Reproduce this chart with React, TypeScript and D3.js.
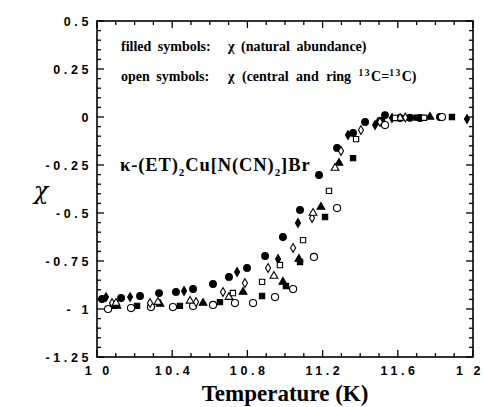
import React from "react";
import * as d3 from "d3";

const W = 484, H = 407;
const M = { left: 97, right: 473, top: 21, bottom: 357 };

const xTicks = [10, 10.4, 10.8, 11.2, 11.6, 12];
const xTickLabels = ["1 0", "10.4", "10.8", "11.2", "11.6", "1 2"];
const yTicks = [0.5, 0.25, 0, -0.25, -0.5, -0.75, -1, -1.25];
const yTickLabels = ["0.5", "0.25", "0", "-0.25", "-0.5", "-0.75", "- 1", "-1.25"];

// filled circle
const fcT = [10.027, 10.128, 10.229, 10.33, 10.42, 10.511, 10.617, 10.702, 10.798, 10.894, 10.989, 11.08, 11.181, 11.277, 11.362, 11.426, 11.532, 11.612, 11.665, 11.718, 11.824];
const fcX = [-0.948, -0.943, -0.932, -0.917, -0.911, -0.896, -0.87, -0.833, -0.786, -0.724, -0.625, -0.484, -0.302, -0.161, -0.083, -0.026, 0.01, -0.005, -0.004, -0.005, 0.0];
// filled diamond
const fdT = [10.048, 10.176, 10.463, 10.745, 10.963, 11.069, 11.335, 11.479, 11.569, 11.968];
const fdX = [-0.938, -0.938, -0.906, -0.807, -0.74, -0.552, -0.094, -0.042, -0.005, -0.01];
// filled triangle
const ftT = [10.106, 10.335, 10.564, 10.777, 10.989, 11.074, 11.191, 11.287, 11.495, 11.771];
const ftX = [-0.984, -0.974, -0.969, -0.911, -0.859, -0.74, -0.469, -0.24, -0.026, 0.0];
// filled square
const fsT = [10.085, 10.213, 10.441, 10.654, 10.878, 11.005, 11.08, 11.213, 11.362, 11.516, 11.7, 11.888];
const fsX = [-0.984, -0.984, -0.984, -0.964, -0.932, -0.88, -0.755, -0.521, -0.214, -0.016, -0.003, 0.0];
// open circle
const ocT = [10.059, 10.181, 10.287, 10.404, 10.511, 10.617, 10.734, 10.83, 10.947, 11.043, 11.154, 11.277, 11.532, 11.835];
const ocX = [-1.0, -0.995, -0.99, -0.99, -0.984, -0.979, -0.969, -0.969, -0.938, -0.896, -0.729, -0.474, -0.042, 0.0];
// open diamond
const odT = [10.08, 10.282, 10.527, 10.67, 10.787, 10.91, 11.043, 11.144, 11.298, 11.404, 11.505, 11.64];
const odX = [-0.969, -0.969, -0.964, -0.911, -0.865, -0.786, -0.682, -0.526, -0.177, -0.068, -0.026, -0.003];
// open triangle
const otT = [10.101, 10.324, 10.495, 10.702, 10.941, 11.149, 11.266, 11.612];
const otX = [-0.969, -0.964, -0.958, -0.938, -0.828, -0.5, -0.266, -0.005];
// open square
const osT = [10.723, 10.878, 10.973, 11.096, 11.234, 11.378, 11.585, 11.74];
const osX = [-0.917, -0.859, -0.771, -0.641, -0.385, -0.115, -0.005, -0.004];

const series = [
  { T: fcT, X: fcX, sym: d3.symbolCircle, filled: true, size: 36 },
  { T: fdT, X: fdX, sym: d3.symbolDiamond, filled: true, size: 22 },
  { T: ftT, X: ftX, sym: d3.symbolTriangle, filled: true, size: 26 },
  { T: fsT, X: fsX, sym: d3.symbolSquare, filled: true, size: 28 },
  { T: ocT, X: ocX, sym: d3.symbolCircle, filled: false, size: 40 },
  { T: odT, X: odX, sym: d3.symbolDiamond, filled: false, size: 22 },
  { T: otT, X: otX, sym: d3.symbolTriangle, filled: false, size: 26 },
  { T: osT, X: osX, sym: d3.symbolSquare, filled: false, size: 28 },
];

export default function App() {
  const x = d3.scaleLinear().domain([10, 12]).range([M.left, M.right]);
  const y = d3.scaleLinear().domain([-1.25, 0.5]).range([M.bottom, M.top]);
  const xMinor = d3.range(10, 12.0001, 0.1).map((v) => +v.toFixed(2));
  const yMinor = d3.range(-1.25, 0.5001, 0.05).map((v) => +v.toFixed(2));
  const tickFont = { fontFamily: "Liberation Sans, Arial, sans-serif", fontWeight: 700, fontSize: 12.5, letterSpacing: 3.6 };
  const serifBold = { fontFamily: "Liberation Serif, Times New Roman, serif", fontWeight: 700 };
  const leg = { ...serifBold, fontSize: 14, wordSpacing: 3 };

  return (
    <svg width={W} height={H} style={{ position: "absolute", left: 0, top: 0, background: "#fff" }}>
      <rect x={M.left} y={M.top} width={M.right - M.left} height={M.bottom - M.top} fill="none" stroke="#000" strokeWidth={1.6} />
      {xMinor.map((v, i) => {
        const maj = xTicks.some((t) => Math.abs(t - v) < 1e-6);
        const l = maj ? 7 : 4;
        return (
          <g key={"xm" + i} stroke="#000" strokeWidth={1.3}>
            <line x1={x(v)} x2={x(v)} y1={M.bottom} y2={M.bottom - l} />
            <line x1={x(v)} x2={x(v)} y1={M.top} y2={M.top + l} />
          </g>
        );
      })}
      {yMinor.map((v, i) => {
        const maj = yTicks.some((t) => Math.abs(t - v) < 1e-6);
        const l = maj ? 7 : 4;
        return (
          <g key={"ym" + i} stroke="#000" strokeWidth={1.3}>
            <line x1={M.left} x2={M.left + l} y1={y(v)} y2={y(v)} />
            <line x1={M.right} x2={M.right - l} y1={y(v)} y2={y(v)} />
          </g>
        );
      })}
      {xTicks.map((v, i) => (
        <text key={"xl" + i} x={Math.min(x(v) + 1.8, 470)} y={375} textAnchor="middle" style={tickFont}>
          {xTickLabels[i]}
        </text>
      ))}
      {yTicks.map((v, i) => (
        <text key={"yl" + i} x={92} y={y(v) + 4.5} textAnchor="end" style={tickFont}>
          {yTickLabels[i]}
        </text>
      ))}
      <text x={285} y={401} textAnchor="middle" style={{ ...serifBold, fontSize: 23 }}>Temperature (K)</text>
      <text x={41} y={199} textAnchor="middle" style={{ fontFamily: "DejaVu Serif, serif", fontStyle: "italic", fontSize: 24 }}>χ</text>

      <text x={121} y={51} style={leg}>filled symbols:</text>
      <text x={228} y={51} style={leg}>χ (natural abundance)</text>
      <text x={121} y={81} style={leg}>open symbols:</text>
      <text x={228} y={81} style={{ ...leg, wordSpacing: 4 }}>
        χ (central and ring <tspan dy={-5} fontSize={9.5} letterSpacing={1.5}>13</tspan><tspan dy={5}>C=</tspan><tspan dy={-5} fontSize={9.5} letterSpacing={1.5}>13</tspan><tspan dy={5}>C)</tspan>
      </text>
      <text x={120} y={171} style={{ ...serifBold, fontSize: 18.5, letterSpacing: 0.9 }}>
        κ-(ET)<tspan dy={5} fontSize={11}>2</tspan><tspan dy={-5}>Cu[N(CN)</tspan><tspan dy={5} fontSize={11}>2</tspan><tspan dy={-5}>]Br</tspan>
      </text>

      {series.map((s, si) => {
        const p = d3.symbol().type(s.sym).size(s.size)();
        return (
          <g key={"s" + si}>
            {s.T.map((t, i) => (
              <path
                key={i}
                d={p || ""}
                transform={`translate(${x(t)},${y(s.X[i])})`}
                fill={s.filled ? "#000" : "#fff"}
                stroke="#000"
                strokeWidth={1.1}
              />
            ))}
          </g>
        );
      })}
    </svg>
  );
}
